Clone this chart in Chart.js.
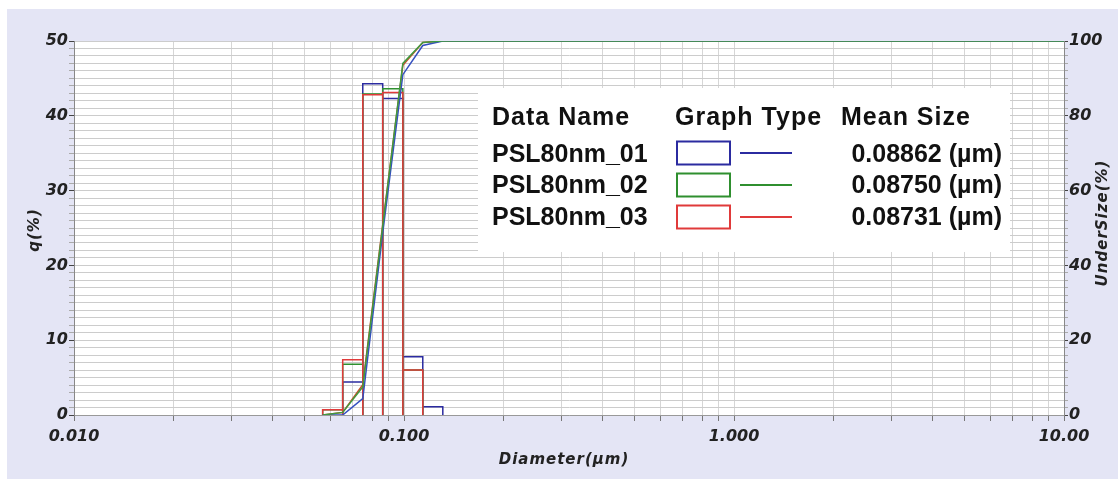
<!DOCTYPE html>
<html>
<head>
<meta charset="utf-8">
<script src="https://cdn.jsdelivr.net/npm/chart.js@4/dist/chart.umd.min.js"></script>
<style>
  html, body { margin: 0; padding: 0; background: #fff; }
  #wrap { width: 1118px; height: 479px; }
</style>
</head>
<body>
<div id="wrap"><canvas id="c" width="1118" height="479"></canvas></div>
<script>
// histogram bins (diameter, um) and q(%) per sample
const binEdges = [0.0567, 0.0652, 0.0750, 0.0862, 0.0992, 0.1140, 0.1311];
const qBlue  = [0,   4.4, 44.3, 42.3, 7.8, 1.1];
const qGreen = [0.7, 6.8, 42.9, 43.6, 6.0, 0];
const qRed   = [0.7, 7.4, 42.8, 43.1, 6.0, 0];

// undersize (%) read at the bin edges
const underEdges = [0.0567, 0.0652, 0.0750, 0.0862, 0.0992, 0.1140, 0.1311, 10];
const underBlue  = [0, 0,   4.4, 48.7, 91.0, 98.8, 100, 100];
const underGreen = [0, 0.7, 7.5, 50.4, 94.0, 99.6, 100, 100];
const underRed   = [0, 0.7, 8.1, 50.9, 93.5, 99.6, 100, 100];

const dataNames = ['PSL80nm_01', 'PSL80nm_02', 'PSL80nm_03'];
const meanSizes = ['0.08862', '0.08750', '0.08731'];
const xTickValues = [0.01, 0.1, 1, 10];
const xTickLabels = ['0.010', '0.100', '1.000', '10.00'];

const BLUE = '#2b2ba0', GREEN = '#2f8f2f', RED = '#e03a3a';
const tickFont = { family: '"DejaVu Sans", sans-serif', size: 16, weight: 'bold', style: 'italic' };

function outline(q) {
  const pts = [];
  q.forEach((h, i) => {
    if (!h) return;
    pts.push({x: binEdges[i], y: 0}, {x: binEdges[i], y: h},
             {x: binEdges[i + 1], y: h}, {x: binEdges[i + 1], y: 0});
  });
  return pts;
}
function under(vals) {
  return underEdges.map((x, i) => ({x: x, y: vals[i]}));
}

const bgPlugin = {
  id: 'bg',
  beforeDraw(chart) {
    const ctx = chart.ctx, a = chart.chartArea;
    ctx.save();
    ctx.fillStyle = '#fff';
    ctx.fillRect(0, 0, chart.width, chart.height);
    ctx.fillStyle = '#e4e5f5';
    ctx.fillRect(7, 9, chart.width - 7, chart.height - 9);
    ctx.fillStyle = '#fff';
    ctx.fillRect(a.left, a.top, a.right - a.left, a.bottom - a.top);
    ctx.restore();
  }
};

const textPlugin = {
  id: 'texts',
  afterDraw(chart) {
    const ctx = chart.ctx;
    ctx.save();
    // axis titles
    ctx.fillStyle = '#222';
    ctx.font = 'italic bold 15px "DejaVu Sans", sans-serif';
    ctx.letterSpacing = '1px';
    ctx.textAlign = 'center';
    ctx.textBaseline = 'middle';
    ctx.fillText('Diameter(µm)', 564, 460);
    [['q(%)', 35, 230], ['UnderSize(%)', 1103, 223]].forEach(t => {
      ctx.save();
      ctx.translate(t[1], t[2]);
      ctx.rotate(-Math.PI / 2);
      ctx.fillText(t[0], 0, 0);
      ctx.restore();
    });

    // legend table
    ctx.fillStyle = '#fff';
    ctx.fillRect(478, 88, 532, 164);
    ctx.fillStyle = '#111';
    ctx.textBaseline = 'alphabetic';
    ctx.textAlign = 'left';
    ctx.font = 'bold 25px "Liberation Sans", Arial, sans-serif';
    ctx.letterSpacing = '1px';
    ctx.fillText('Data Name', 492, 125);
    ctx.fillText('Graph Type', 675, 125);
    ctx.fillText('Mean Size', 841, 125);
    ctx.letterSpacing = '0px';
    const colors = [BLUE, GREEN, RED];
    const base = [162, 193, 225];
    const mid = [153, 185, 217];
    dataNames.forEach((n, i) => {
      ctx.fillStyle = '#111';
      ctx.textAlign = 'left';
      ctx.fillText(n, 492, base[i]);
      ctx.textAlign = 'right';
      ctx.fillText(meanSizes[i] + ' (µm)', 1002, base[i]);
      ctx.strokeStyle = colors[i];
      ctx.lineWidth = 2;
      ctx.strokeRect(677, mid[i] - 11.5, 53, 23);
      ctx.beginPath();
      ctx.moveTo(740, mid[i]);
      ctx.lineTo(792, mid[i]);
      ctx.stroke();
    });
    ctx.restore();
  }
};

const minorTicks = [];
[0.01, 0.1, 1].forEach(d => { for (let k = 1; k < 10; k++) minorTicks.push(+(d * k).toPrecision(3)); });
minorTicks.push(10);

new Chart(document.getElementById('c'), {
  type: 'line',
  data: {
    datasets: [
      { label: 'cum 02', data: under(underGreen), yAxisID: 'y2', borderColor: '#3f9a3f', order: 0 },
      { label: 'cum 01', data: under(underBlue), yAxisID: 'y2', borderColor: '#3550c0', order: 1 },
      { label: 'cum 03', data: under(underRed), yAxisID: 'y2', borderColor: '#c8502a', order: 2 },
      { label: dataNames[2], data: outline(qRed), yAxisID: 'y', borderColor: RED, order: 3 },
      { label: dataNames[1], data: outline(qGreen), yAxisID: 'y', borderColor: GREEN, order: 4 },
      { label: dataNames[0], data: outline(qBlue), yAxisID: 'y', borderColor: BLUE, order: 5 }
    ]
  },
  options: {
    responsive: false,
    animation: false,
    events: [],
    layout: { padding: { top: 41, left: 0, right: 0, bottom: 0 } },
    elements: {
      point: { radius: 0 },
      line: { borderWidth: 1.5, fill: false, tension: 0 }
    },
    plugins: { legend: { display: false }, tooltip: { enabled: false } },
    scales: {
      x: {
        type: 'logarithmic', min: 0.01, max: 10,
        afterBuildTicks: s => { s.ticks = minorTicks.map(v => ({value: v})); },
        afterFit: s => { s.height = 64; },
        ticks: {
          autoSkip: false, maxRotation: 0, padding: 6, color: '#222', font: tickFont,
          callback: v => {
            const i = xTickValues.findIndex(t => Math.abs(t - v) / t < 1e-6);
            return i < 0 ? '' : xTickLabels[i];
          }
        },
        grid: { color: '#d6d6d6', tickLength: 6, tickColor: '#777' },
        border: { color: '#999' }
      },
      y: {
        position: 'left', min: 0, max: 50,
        afterFit: s => { s.width = 74; },
        ticks: {
          stepSize: 1, maxTicksLimit: 100, autoSkip: false, padding: 1, color: '#222', font: tickFont,
          callback: v => (v % 10 === 0 ? v : '')
        },
        grid: {
          color: '#cccccc', tickLength: 5,
          tickColor: c => (c.tick && c.tick.value % 10 === 0 ? '#444' : '#aaa')
        },
        border: { color: '#888' }
      },
      y2: {
        position: 'right', min: 0, max: 100,
        afterFit: s => { s.width = 54; },
        ticks: {
          stepSize: 2, maxTicksLimit: 100, autoSkip: false, padding: 1, color: '#222', font: tickFont,
          callback: v => (v % 20 === 0 ? v : '')
        },
        grid: {
          drawOnChartArea: false, tickLength: 4,
          tickColor: c => (c.tick && c.tick.value % 20 === 0 ? '#444' : '#aaa')
        },
        border: { color: '#888' }
      }
    }
  },
  plugins: [bgPlugin, textPlugin]
});
</script>
</body>
</html>
